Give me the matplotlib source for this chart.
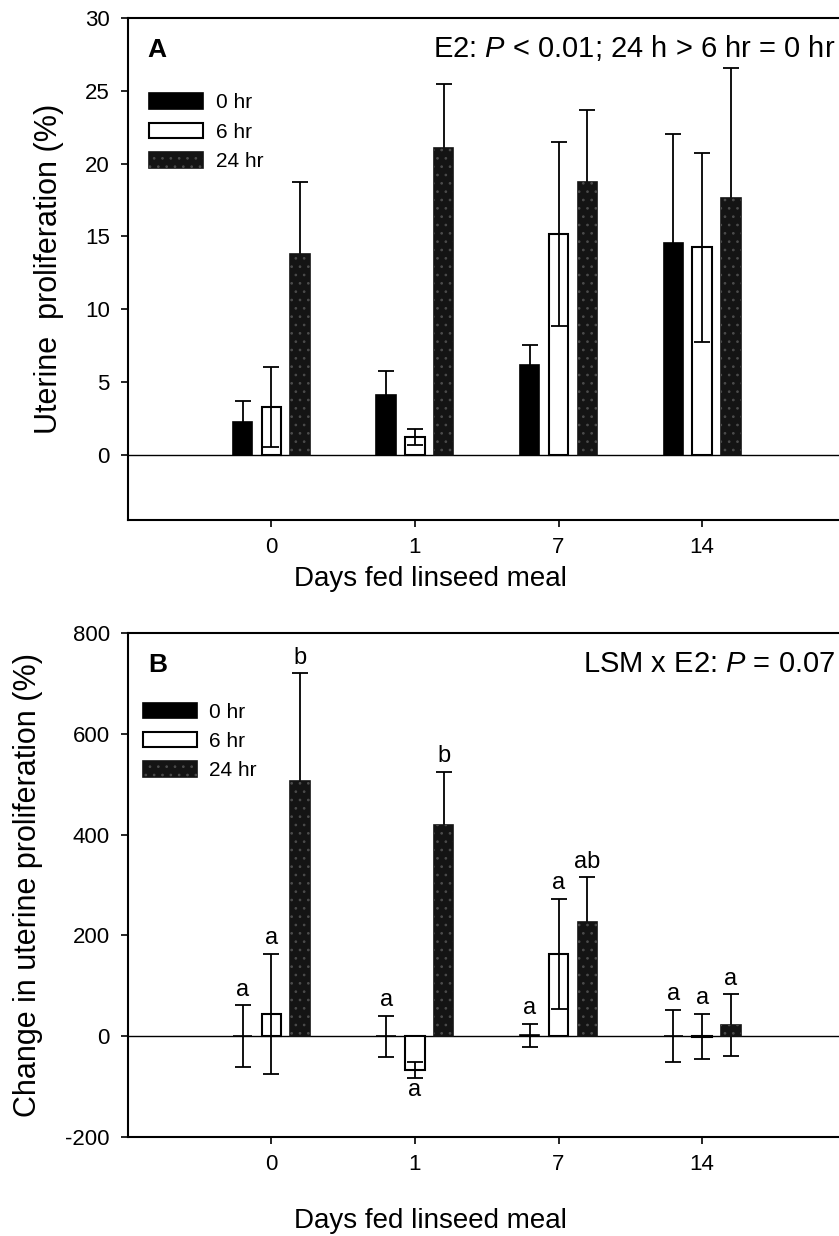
import matplotlib
matplotlib.use("Agg")
import matplotlib.pyplot as plt
import numpy as np
from matplotlib.legend_handler import HandlerTuple

plt.rcParams["font.family"] = ["Liberation Sans", "DejaVu Sans"]
plt.rcParams["mathtext.fontset"] = "custom"
plt.rcParams["mathtext.rm"] = "Liberation Sans"
plt.rcParams["mathtext.it"] = "Liberation Sans:italic"
plt.rcParams["hatch.linewidth"] = 0.7
plt.rcParams["axes.unicode_minus"] = False

# Data
days = ["0", "1", "7", "14"]
hours = ["0 hr", "6 hr", "24 hr"]

# Panel A: uterine proliferation (%)
prolif_0hr = [2.25, 4.1, 6.15, 14.55]
prolif_0hr_se = [1.4, 1.65, 1.35, 7.5]
prolif_6hr = [3.25, 1.2, 15.15, 14.25]
prolif_6hr_se = [2.75, 0.55, 6.3, 6.5]
prolif_24hr = [13.8, 21.1, 18.75, 17.6]
prolif_24hr_se = [4.9, 4.4, 4.9, 9.0]

# Panel B: change in uterine proliferation (%)
change_0hr = [0, 0, 2, 0]
change_0hr_se = [61, 41, 23, 52]
change_6hr = [44, -67, 163, -1]
change_6hr_se = [120, 15, 110, 45]
change_24hr = [507, 419, 226, 22]
change_24hr_se = [213, 105, 89, 61]

letters_0hr = ["a", "a", "a", "a"]
letters_6hr = ["a", "a", "a", "a"]
letters_24hr = ["b", "b", "ab", "a"]

x = np.arange(len(days))
offsets = [-0.2, 0.0, 0.2]
width = 0.135
dark = "#141414"


def draw_panel(ax, means, errs, ylim, yticks, ylabel, tag, note, letters=None):
    handles = []
    for i, (m, e) in enumerate(zip(means, errs)):
        xp = x + offsets[i]
        if i == 0:
            bars = ax.bar(xp, m, width, facecolor="black", edgecolor="black",
                          linewidth=1.2, zorder=2)
            handles.append(bars)
        elif i == 1:
            bars = ax.bar(xp, m, width, facecolor="white", edgecolor="black",
                          linewidth=1.5, zorder=2)
            handles.append(bars)
        else:
            bars = ax.bar(xp, m, width, facecolor=dark, edgecolor=dark,
                          linewidth=1.2, zorder=2)
            speck = ax.bar(xp, m, width, facecolor="none", edgecolor="#4c4c4c",
                           hatch="..", linewidth=0, zorder=2.5)
            handles.append((bars, speck))
        # whiskers sit on top of the open bars, behind the filled ones
        ax.errorbar(xp, m, yerr=e, fmt="none", ecolor="black", elinewidth=1.3,
                    capsize=5.5, capthick=1.3, zorder=4 if i == 1 else 1.9)
        if letters is not None:
            for xi, mi, ei, lab in zip(xp, m, e, letters[i]):
                if mi + ei > 0:
                    ax.annotate(lab, (xi, mi + ei), xytext=(0, 7),
                                textcoords="offset points", ha="center",
                                va="baseline", fontsize=17)
                else:
                    ax.annotate(lab, (xi, mi - ei), xytext=(0, -1),
                                textcoords="offset points", ha="center",
                                va="top", fontsize=17)

    ax.axhline(0, color="black", linewidth=1.0, zorder=1.5)
    ax.set_xlim(-1, 4)
    ax.set_ylim(*ylim)
    ax.set_yticks(yticks)
    ax.set_xticks(x)
    ax.set_xticklabels(days)
    ax.tick_params(axis="both", direction="out", length=5, width=1.2,
                   labelsize=16, top=False, right=False)
    ax.tick_params(axis="y", pad=8)
    ax.tick_params(axis="x", pad=7)
    for side in ["left", "top", "bottom"]:
        ax.spines[side].set_linewidth(1.5)
    ax.spines["right"].set_visible(False)

    ax.set_ylabel(ylabel, fontsize=22)
    ax.set_xlabel("Days fed linseed meal", fontsize=20)

    ax.text(0.028, 0.922, tag, transform=ax.transAxes, fontsize=19,
            weight="bold", va="baseline", ha="left")
    ax.text(0.985, 0.922, note, transform=ax.transAxes, fontsize=21,
            va="baseline", ha="right")
    return handles


fig = plt.figure(figsize=(8.39, 12.36), dpi=100)
ax_a = fig.add_axes([0.1522, 0.5793, 0.8558, 0.4061])
ax_b = fig.add_axes([0.1522, 0.0801, 0.8558, 0.4078])

h_a = draw_panel(ax_a,
                 [prolif_0hr, prolif_6hr, prolif_24hr],
                 [prolif_0hr_se, prolif_6hr_se, prolif_24hr_se],
                 (-4.5, 30), np.arange(0, 31, 5),
                 "Uterine  proliferation (%)", "A",
                 r"E2: $\it{P}$ < 0.01; 24 h > 6 hr = 0 hr")
h_b = draw_panel(ax_b,
                 [change_0hr, change_6hr, change_24hr],
                 [change_0hr_se, change_6hr_se, change_24hr_se],
                 (-200, 800), np.arange(-200, 801, 200),
                 "Change in uterine proliferation (%)", "B",
                 r"LSM x E2: $\it{P}$ = 0.07",
                 letters=[letters_0hr, letters_6hr, letters_24hr])

leg_kw = dict(loc="upper left", frameon=False, fontsize=15, handlelength=2.6,
              handleheight=0.75, labelspacing=0.5, handletextpad=0.6,
              borderpad=0, borderaxespad=0,
              handler_map={tuple: HandlerTuple(ndivide=1, pad=0)})
ax_a.legend(h_a, hours, bbox_to_anchor=(0.03, 0.85), **leg_kw)
ax_b.legend(h_b, hours, bbox_to_anchor=(0.021, 0.862), **leg_kw)

ax_a.yaxis.set_label_coords(-0.089, 0.5)
ax_b.yaxis.set_label_coords(-0.118, 0.5)
ax_a.xaxis.set_label_coords(0.422, -0.092)
ax_b.xaxis.set_label_coords(0.422, -0.14)

fig.savefig("out.png", dpi=100)
